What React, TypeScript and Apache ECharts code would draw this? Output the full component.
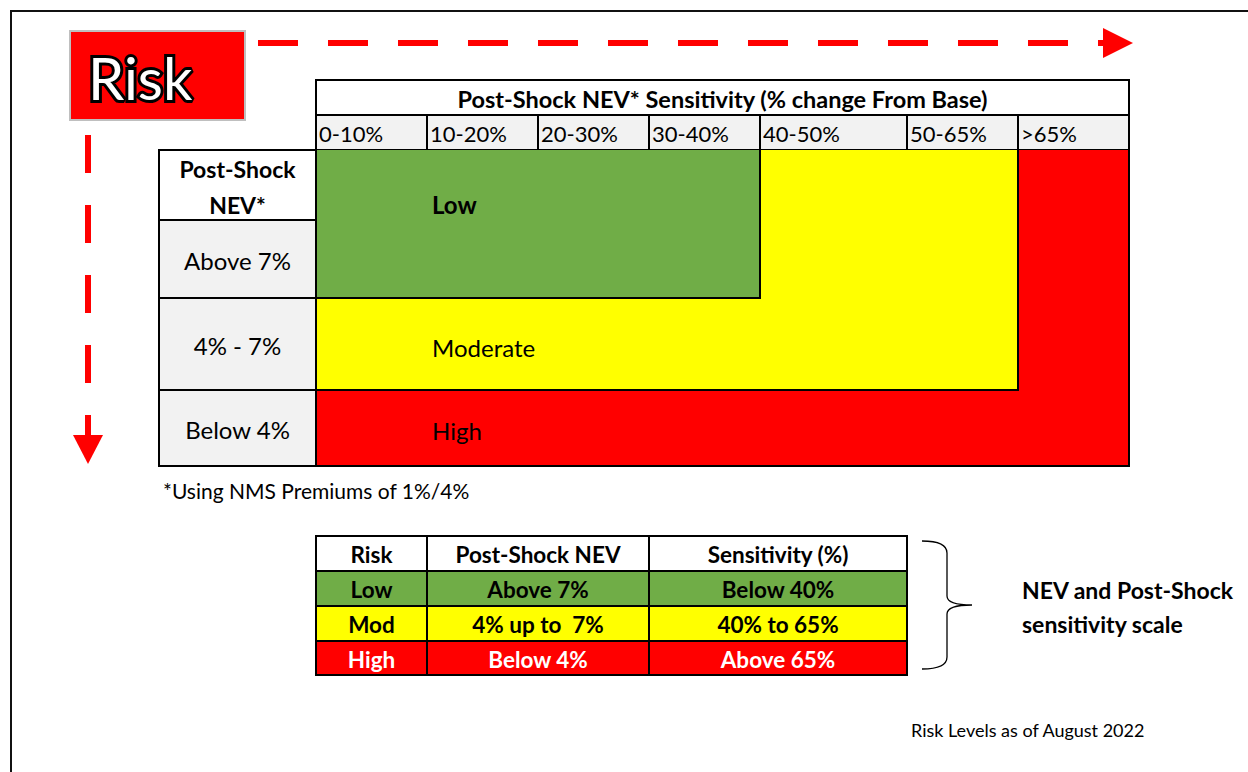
import React, { useEffect, useRef } from 'react';
import * as echarts from 'echarts';

// ---------- content ----------
const badge = 'Risk';
const sensitivityTitle = 'Post-Shock NEV* Sensitivity (% change From Base)';
const sensitivityBands = ['0-10%', '10-20%', '20-30%', '30-40%', '40-50%', '50-65%', '>65%'];
const nevHeader = ['Post-Shock', 'NEV*'];
const nevRows = ['Above 7%', '4% - 7%', 'Below 4%'];
const riskLevels = ['Low', 'Moderate', 'High'];
// risk level index per NEV row (rows) and sensitivity band (columns)
const riskAboveSeven = [0, 0, 0, 0, 1, 1, 2];
const riskFourToSeven = [1, 1, 1, 1, 1, 1, 2];
const riskBelowFour = [2, 2, 2, 2, 2, 2, 2];
const riskMatrix = [riskAboveSeven, riskFourToSeven, riskBelowFour];
const footnote = '*Using NMS Premiums of 1%/4%';
const scaleHeaders = ['Risk', 'Post-Shock NEV', 'Sensitivity (%)'];
const scaleRisk = ['Low', 'Mod', 'High'];
const scaleNev = ['Above 7%', '4% up to  7%', 'Below 4%'];
const scaleSensitivity = ['Below 40%', '40% to 65%', 'Above 65%'];
const scaleNote = ['NEV and Post-Shock', 'sensitivity scale'];
const asOf = 'Risk Levels as of August 2022';

// ---------- layout & style ----------
const FONT = 'Lato';
const LEVEL_FILL = ['#70AD47', '#FFFF00', '#FF0000'];
const LEVEL_TEXT = ['#000000', '#000000', '#FFFFFF'];
const GRAY = '#F2F2F2';
const RED = '#FF0000';
const LW = 2;
const colEdges = [316, 427, 538, 649, 760, 907, 1018, 1129];
const rowEdges = [150, 298, 390, 466];
const labelColX = [159, 316];
const labelRowEdges = [150, 220, 298, 390, 466];
const titleRowY = [80, 115];
const bandRowY = [115, 150];
const levelLabelY = [204, 347, 430];
const levelLabelX = 432;
const scaleCols = [316, 427, 649, 907];
const scaleRowsY = [536, 571, 606, 641, 675];

echarts.graphic.registerShape(
  'brace',
  echarts.graphic.extendPath(
    'M922,541 Q947,541 947,553 L947,596 Q947,605 972,605 Q947,605 947,614 L947,657 Q947,669 922,669',
    {}
  )
);

function rect(x: number, y: number, w: number, h: number, fill: string, stroke?: string, lw = LW) {
  return {
    type: 'rect',
    shape: { x, y, width: w, height: h },
    style: { fill, stroke: stroke || null, lineWidth: stroke ? lw : 0 },
  };
}
function line(x1: number, y1: number, x2: number, y2: number, stroke = '#000', lw = LW, dash?: number[]) {
  return {
    type: 'line',
    shape: { x1, y1, x2, y2 },
    style: { stroke, lineWidth: lw, lineDash: dash || null, lineCap: dash ? 'butt' : 'square' },
  };
}
function text(
  x: number,
  y: number,
  str: string,
  size: number,
  opts: { bold?: boolean; align?: string; fill?: string; stroke?: string; lw?: number } = {}
) {
  const align = opts.align || 'left';
  return {
    type: 'text',
    x,
    y,
    style: {
      text: str,
      fontFamily: FONT,
      fontSize: size,
      fontWeight: opts.bold ? 'bold' : 'normal',
      fill: opts.fill || '#000',
      stroke: opts.stroke || null,
      lineWidth: opts.lw || 0,
      align,
      verticalAlign: 'middle',
      textAlign: align,
      textVerticalAlign: 'middle',
    },
  };
}

function buildElements() {
  const els: any[] = [];
  // outer frame
  els.push(rect(11, 11, 1260, 800, 'none', '#111', 2));

  // badge
  els.push(rect(70, 31, 175, 89, RED, '#BFBFBF', 2));
  els.push(text(88, 77, badge, 58, { fill: '#FFFFFF', stroke: '#000', lw: 6 }));

  // dashed arrows
  els.push(line(258, 43, 1104, 43, RED, 6, [40, 30]));
  els.push({ type: 'polygon', shape: { points: [[1103, 28], [1133, 43], [1103, 58]] }, style: { fill: RED } });
  els.push(line(88, 135, 88, 437, RED, 6, [38, 32]));
  els.push({ type: 'polygon', shape: { points: [[73, 435], [103, 435], [88, 464]] }, style: { fill: RED } });

  // title row
  const left = colEdges[0];
  const right = colEdges[colEdges.length - 1];
  els.push(rect(left, titleRowY[0], right - left, titleRowY[1] - titleRowY[0], '#FFFFFF', '#000'));
  // band row
  sensitivityBands.forEach((b, i) => {
    els.push(rect(colEdges[i], bandRowY[0], colEdges[i + 1] - colEdges[i], bandRowY[1] - bandRowY[0], GRAY, '#000'));
  });
  // label column
  for (let i = 0; i < labelRowEdges.length - 1; i++) {
    els.push(
      rect(labelColX[0], labelRowEdges[i], labelColX[1] - labelColX[0], labelRowEdges[i + 1] - labelRowEdges[i], i === 0 ? '#FFFFFF' : GRAY, '#000')
    );
  }
  // matrix fills
  riskMatrix.forEach((row, r) => {
    row.forEach((lvl, c) => {
      els.push(rect(colEdges[c], rowEdges[r], colEdges[c + 1] - colEdges[c], rowEdges[r + 1] - rowEdges[r], LEVEL_FILL[lvl]));
    });
  });
  // matrix borders between different levels
  els.push(line(left, rowEdges[0], left, rowEdges[rowEdges.length - 1]));
  riskMatrix.forEach((row, r) => {
    row.forEach((lvl, c) => {
      if (c === row.length - 1 || row[c + 1] !== lvl) {
        els.push(line(colEdges[c + 1], rowEdges[r], colEdges[c + 1], rowEdges[r + 1]));
      }
      if (r === riskMatrix.length - 1 || riskMatrix[r + 1][c] !== lvl) {
        els.push(line(colEdges[c], rowEdges[r + 1], colEdges[c + 1], rowEdges[r + 1]));
      }
    });
  });

  // texts
  els.push(text((left + right) / 2, (titleRowY[0] + titleRowY[1]) / 2 + 1, sensitivityTitle, 23.5, { bold: true, align: 'center' }));
  sensitivityBands.forEach((b, i) => {
    els.push(text(colEdges[i] + 3, (bandRowY[0] + bandRowY[1]) / 2 + 1, b, 22));
  });
  const lcx = (labelColX[0] + labelColX[1]) / 2;
  els.push(text(lcx, 169, nevHeader[0], 23, { bold: true, align: 'center' }));
  els.push(text(lcx, 205, nevHeader[1], 23, { bold: true, align: 'center' }));
  nevRows.forEach((n, i) => {
    els.push(text(lcx, (labelRowEdges[i + 1] + labelRowEdges[i + 2]) / 2 + 1, n, 24, { align: 'center' }));
  });
  riskLevels.forEach((lv, i) => {
    els.push(text(levelLabelX, levelLabelY[i], lv, 24, { bold: i === 0 }));
  });
  els.push(text(163, 490, footnote, 21));

  // scale table
  const scaleCells = [scaleHeaders, ...scaleRisk.map((r, i) => [r, scaleNev[i], scaleSensitivity[i]])];
  scaleCells.forEach((row, r) => {
    row.forEach((cell, c) => {
      const fill = r === 0 ? '#FFFFFF' : LEVEL_FILL[r - 1];
      els.push(rect(scaleCols[c], scaleRowsY[r], scaleCols[c + 1] - scaleCols[c], scaleRowsY[r + 1] - scaleRowsY[r], fill, '#000'));
    });
  });
  scaleCells.forEach((row, r) => {
    row.forEach((cell, c) => {
      const color = r === 0 ? '#000' : LEVEL_TEXT[r - 1];
      els.push(
        text((scaleCols[c] + scaleCols[c + 1]) / 2, (scaleRowsY[r] + scaleRowsY[r + 1]) / 2 + 1, cell, 22.5, {
          bold: true,
          align: 'center',
          fill: color,
        })
      );
    });
  });
  els.push({ type: 'brace', x: 0, y: 0, style: { fill: 'none', stroke: '#000', lineWidth: 1.3 } });
  els.push(text(1022, 590, scaleNote[0], 23, { bold: true }));
  els.push(text(1022, 624, scaleNote[1], 23, { bold: true }));
  els.push(text(911, 730, asOf, 18));
  return els;
}

export default function App() {
  const ref = useRef<HTMLDivElement>(null);
  useEffect(() => {
    if (!ref.current) return;
    const chart = echarts.init(ref.current, null, { renderer: 'svg' });
    chart.setOption({ animation: false, graphic: { elements: buildElements() } });
    return () => chart.dispose();
  }, []);
  return (
    <div
      ref={ref}
      style={{ position: 'fixed', left: 0, top: 0, width: 1248, height: 772, background: '#FFFFFF' }}
    />
  );
}
